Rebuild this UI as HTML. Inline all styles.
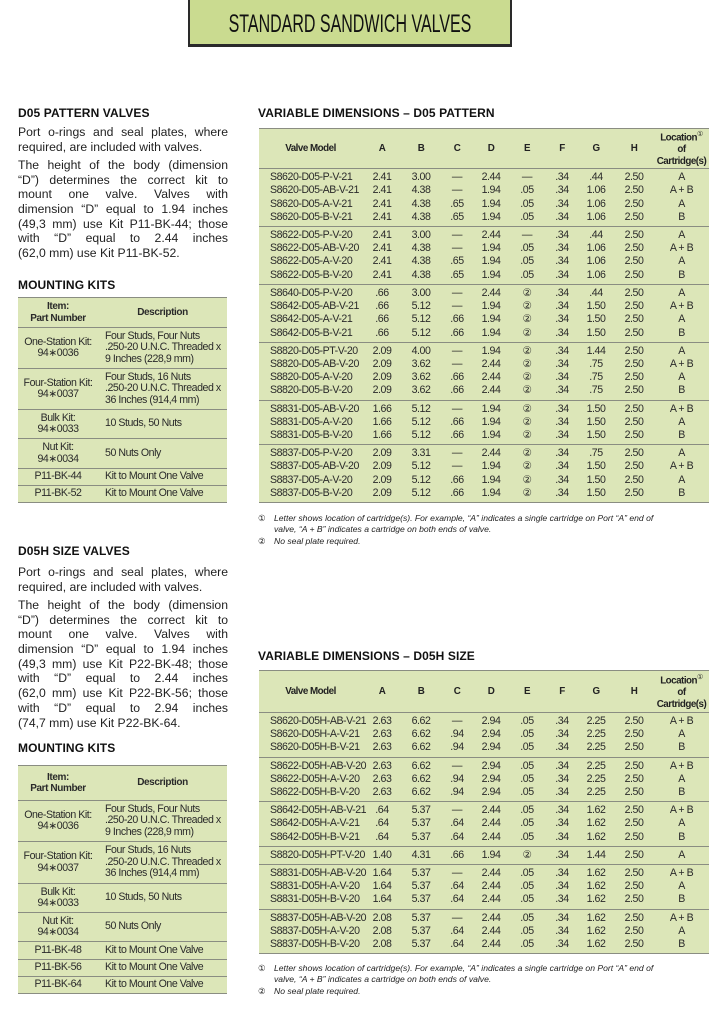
<!DOCTYPE html>
<html><head><meta charset="utf-8">
<style>
*{margin:0;padding:0;box-sizing:border-box}
body{width:723px;height:1013px;background:#fff;position:relative;overflow:hidden;font-family:"Liberation Sans",sans-serif;color:#1a1a1a}
.box{position:absolute;left:188px;top:-3px;width:324px;height:50px;background:#cadb90;border:2px solid #2a2a2a;border-bottom-width:3px;overflow:hidden}
.box span{position:absolute;left:-150px;right:-150px;top:11px;text-align:center;font-size:25px;line-height:28px;transform:scaleX(0.64);white-space:nowrap;color:#111}
.h{position:absolute;font-weight:bold;font-size:12px;letter-spacing:0.1px;white-space:nowrap;color:#111}
.p{position:absolute;left:18px;width:210px;font-size:12.2px;line-height:14.7px;color:#222}
.p div{text-align:justify;text-align-last:justify;white-space:nowrap}
.p div.e{text-align-last:left}
.p div.g{margin-top:3.5px}
table{position:absolute;border-collapse:collapse;background:#dce6b8;table-layout:fixed;font-size:10.6px;letter-spacing:-0.45px;color:#2a2a2a}
table td{padding:0;white-space:nowrap;text-align:center}
.v thead td{font-weight:bold;font-size:9.8px;letter-spacing:-0.5px;color:#222;line-height:12px}
.v tbody{border-top:1.5px solid #8a8d82}
.v{border-bottom:1.5px solid #8a8d82;border-top:1.5px solid #8a8d82}
.v tbody td{line-height:13.2px}
.v tbody tr:first-child td{padding-top:2px}
.v tbody tr:last-child td{padding-bottom:2px}
.v td.m{text-align:left;padding-left:11px}
.k{border-top:1.5px solid #8a8d82;border-bottom:1.5px solid #8a8d82;left:18px;width:209px}
.k td{border-top:1.5px solid #8a8d82;line-height:11.5px}
.k td.d{text-align:left;padding-left:7px}
.k thead td{font-weight:bold;font-size:10px;letter-spacing:-0.4px;border-top:none}
.fn{position:absolute;left:258px;font-size:8.6px;font-style:italic;color:#222;line-height:11px;width:440px}
.fn i{font-style:normal;display:inline-block;width:16px}
.fn .in{padding-left:16px}
sup{font-size:7px;font-weight:normal}
</style></head><body>
<div class="box"><span>STANDARD SANDWICH VALVES</span></div>

<div class="h" style="left:18px;top:106px">D05 PATTERN VALVES</div>
<div class="p" style="top:125px">
<div>Port o-rings and seal plates, where</div>
<div class="e">required, are included with valves.</div>
<div class="g">The height of the body (dimension</div>
<div>“D”) determines the correct kit to</div>
<div>mount one valve. Valves with</div>
<div>dimension “D” equal to 1.94 inches</div>
<div>(49,3 mm) use Kit P11-BK-44; those</div>
<div>with “D” equal to 2.44 inches</div>
<div class="e">(62,0 mm) use Kit P11-BK-52.</div>
</div>

<div class="h" style="left:18px;top:278px">MOUNTING KITS</div>
<table class="k" style="top:297px">
<colgroup><col style="width:80px"><col style="width:129px"></colgroup>
<thead><tr style="height:30px"><td>Item:<br>Part Number</td><td>Description</td></tr></thead>
<tbody>
<tr style="height:41px"><td>One-Station Kit:<br>94∗0036</td><td class="d">Four Studs, Four Nuts<br>.250-20 U.N.C. Threaded x<br>9 Inches (228,9 mm)</td></tr>
<tr style="height:41px"><td>Four-Station Kit:<br>94∗0037</td><td class="d">Four Studs, 16 Nuts<br>.250-20 U.N.C. Threaded x<br>36 Inches (914,4 mm)</td></tr>
<tr style="height:29px"><td>Bulk Kit:<br>94∗0033</td><td class="d">10 Studs, 50 Nuts</td></tr>
<tr style="height:30px"><td>Nut Kit:<br>94∗0034</td><td class="d">50 Nuts Only</td></tr>
<tr style="height:17px"><td>P11-BK-44</td><td class="d">Kit to Mount One Valve</td></tr>
<tr style="height:17px"><td>P11-BK-52</td><td class="d">Kit to Mount One Valve</td></tr>
</tbody></table>

<div class="h" style="left:258px;top:106px">VARIABLE DIMENSIONS – D05 PATTERN</div>
<table class="v" style="left:259px;top:128px;width:450px">
<colgroup><col style="width:103px"><col style="width:40px"><col style="width:38px"><col style="width:34px"><col style="width:34px"><col style="width:38px"><col style="width:32px"><col style="width:36px"><col style="width:40px"><col style="width:55px"></colgroup>
<thead><tr style="height:39px"><td>Valve Model</td><td>A</td><td>B</td><td>C</td><td>D</td><td>E</td><td>F</td><td>G</td><td>H</td><td>Location<sup>①</sup><br>of<br>Cartridge(s)</td></tr></thead>
<tbody>
<tr><td class="m">S8620-D05-P-V-21</td><td>2.41</td><td>3.00</td><td>—</td><td>2.44</td><td>—</td><td>.34</td><td>.44</td><td>2.50</td><td>A</td></tr>
<tr><td class="m">S8620-D05-AB-V-21</td><td>2.41</td><td>4.38</td><td>—</td><td>1.94</td><td>.05</td><td>.34</td><td>1.06</td><td>2.50</td><td>A + B</td></tr>
<tr><td class="m">S8620-D05-A-V-21</td><td>2.41</td><td>4.38</td><td>.65</td><td>1.94</td><td>.05</td><td>.34</td><td>1.06</td><td>2.50</td><td>A</td></tr>
<tr><td class="m">S8620-D05-B-V-21</td><td>2.41</td><td>4.38</td><td>.65</td><td>1.94</td><td>.05</td><td>.34</td><td>1.06</td><td>2.50</td><td>B</td></tr>
</tbody><tbody>
<tr><td class="m">S8622-D05-P-V-20</td><td>2.41</td><td>3.00</td><td>—</td><td>2.44</td><td>—</td><td>.34</td><td>.44</td><td>2.50</td><td>A</td></tr>
<tr><td class="m">S8622-D05-AB-V-20</td><td>2.41</td><td>4.38</td><td>—</td><td>1.94</td><td>.05</td><td>.34</td><td>1.06</td><td>2.50</td><td>A + B</td></tr>
<tr><td class="m">S8622-D05-A-V-20</td><td>2.41</td><td>4.38</td><td>.65</td><td>1.94</td><td>.05</td><td>.34</td><td>1.06</td><td>2.50</td><td>A</td></tr>
<tr><td class="m">S8622-D05-B-V-20</td><td>2.41</td><td>4.38</td><td>.65</td><td>1.94</td><td>.05</td><td>.34</td><td>1.06</td><td>2.50</td><td>B</td></tr>
</tbody><tbody>
<tr><td class="m">S8640-D05-P-V-20</td><td>.66</td><td>3.00</td><td>—</td><td>2.44</td><td>②</td><td>.34</td><td>.44</td><td>2.50</td><td>A</td></tr>
<tr><td class="m">S8642-D05-AB-V-21</td><td>.66</td><td>5.12</td><td>—</td><td>1.94</td><td>②</td><td>.34</td><td>1.50</td><td>2.50</td><td>A + B</td></tr>
<tr><td class="m">S8642-D05-A-V-21</td><td>.66</td><td>5.12</td><td>.66</td><td>1.94</td><td>②</td><td>.34</td><td>1.50</td><td>2.50</td><td>A</td></tr>
<tr><td class="m">S8642-D05-B-V-21</td><td>.66</td><td>5.12</td><td>.66</td><td>1.94</td><td>②</td><td>.34</td><td>1.50</td><td>2.50</td><td>B</td></tr>
</tbody><tbody>
<tr><td class="m">S8820-D05-PT-V-20</td><td>2.09</td><td>4.00</td><td>—</td><td>1.94</td><td>②</td><td>.34</td><td>1.44</td><td>2.50</td><td>A</td></tr>
<tr><td class="m">S8820-D05-AB-V-20</td><td>2.09</td><td>3.62</td><td>—</td><td>2.44</td><td>②</td><td>.34</td><td>.75</td><td>2.50</td><td>A + B</td></tr>
<tr><td class="m">S8820-D05-A-V-20</td><td>2.09</td><td>3.62</td><td>.66</td><td>2.44</td><td>②</td><td>.34</td><td>.75</td><td>2.50</td><td>A</td></tr>
<tr><td class="m">S8820-D05-B-V-20</td><td>2.09</td><td>3.62</td><td>.66</td><td>2.44</td><td>②</td><td>.34</td><td>.75</td><td>2.50</td><td>B</td></tr>
</tbody><tbody>
<tr><td class="m">S8831-D05-AB-V-20</td><td>1.66</td><td>5.12</td><td>—</td><td>1.94</td><td>②</td><td>.34</td><td>1.50</td><td>2.50</td><td>A + B</td></tr>
<tr><td class="m">S8831-D05-A-V-20</td><td>1.66</td><td>5.12</td><td>.66</td><td>1.94</td><td>②</td><td>.34</td><td>1.50</td><td>2.50</td><td>A</td></tr>
<tr><td class="m">S8831-D05-B-V-20</td><td>1.66</td><td>5.12</td><td>.66</td><td>1.94</td><td>②</td><td>.34</td><td>1.50</td><td>2.50</td><td>B</td></tr>
</tbody><tbody>
<tr><td class="m">S8837-D05-P-V-20</td><td>2.09</td><td>3.31</td><td>—</td><td>2.44</td><td>②</td><td>.34</td><td>.75</td><td>2.50</td><td>A</td></tr>
<tr><td class="m">S8837-D05-AB-V-20</td><td>2.09</td><td>5.12</td><td>—</td><td>1.94</td><td>②</td><td>.34</td><td>1.50</td><td>2.50</td><td>A + B</td></tr>
<tr><td class="m">S8837-D05-A-V-20</td><td>2.09</td><td>5.12</td><td>.66</td><td>1.94</td><td>②</td><td>.34</td><td>1.50</td><td>2.50</td><td>A</td></tr>
<tr><td class="m">S8837-D05-B-V-20</td><td>2.09</td><td>5.12</td><td>.66</td><td>1.94</td><td>②</td><td>.34</td><td>1.50</td><td>2.50</td><td>B</td></tr>
</tbody></table>
<div class="fn" style="top:513px"><i>①</i>Letter shows location of cartridge(s). For example, “A” indicates a single cartridge on Port “A” end of<div class="in">valve, “A + B” indicates a cartridge on both ends of valve.</div><div style="margin-top:1px"><i>②</i>No seal plate required.</div></div>

<div class="h" style="left:18px;top:544px">D05H SIZE VALVES</div>
<div class="p" style="top:565px">
<div>Port o-rings and seal plates, where</div>
<div class="e">required, are included with valves.</div>
<div class="g">The height of the body (dimension</div>
<div>“D”) determines the correct kit to</div>
<div>mount one valve. Valves with</div>
<div>dimension “D” equal to 1.94 inches</div>
<div>(49,3 mm) use Kit P22-BK-48; those</div>
<div>with “D” equal to 2.44 inches</div>
<div>(62,0 mm) use Kit P22-BK-56; those</div>
<div>with “D” equal to 2.94 inches</div>
<div class="e">(74,7 mm) use Kit P22-BK-64.</div>
</div>

<div class="h" style="left:18px;top:741px">MOUNTING KITS</div>
<table class="k" style="top:765px">
<colgroup><col style="width:80px"><col style="width:129px"></colgroup>
<thead><tr style="height:35px"><td>Item:<br>Part Number</td><td>Description</td></tr></thead>
<tbody>
<tr style="height:41px"><td>One-Station Kit:<br>94∗0036</td><td class="d">Four Studs, Four Nuts<br>.250-20 U.N.C. Threaded x<br>9 Inches (228,9 mm)</td></tr>
<tr style="height:42px"><td>Four-Station Kit:<br>94∗0037</td><td class="d">Four Studs, 16 Nuts<br>.250-20 U.N.C. Threaded x<br>36 Inches (914,4 mm)</td></tr>
<tr style="height:29px"><td>Bulk Kit:<br>94∗0033</td><td class="d">10 Studs, 50 Nuts</td></tr>
<tr style="height:29px"><td>Nut Kit:<br>94∗0034</td><td class="d">50 Nuts Only</td></tr>
<tr style="height:18px"><td>P11-BK-48</td><td class="d">Kit to Mount One Valve</td></tr>
<tr style="height:17px"><td>P11-BK-56</td><td class="d">Kit to Mount One Valve</td></tr>
<tr style="height:17px"><td>P11-BK-64</td><td class="d">Kit to Mount One Valve</td></tr>
</tbody></table>

<div class="h" style="left:258px;top:649px">VARIABLE DIMENSIONS – D05H SIZE</div>
<table class="v" style="left:259px;top:670px;width:450px">
<colgroup><col style="width:103px"><col style="width:40px"><col style="width:38px"><col style="width:34px"><col style="width:34px"><col style="width:38px"><col style="width:32px"><col style="width:36px"><col style="width:40px"><col style="width:55px"></colgroup>
<thead><tr style="height:42px"><td>Valve Model</td><td>A</td><td>B</td><td>C</td><td>D</td><td>E</td><td>F</td><td>G</td><td>H</td><td>Location<sup>①</sup><br>of<br>Cartridge(s)</td></tr></thead>
<tbody>
<tr><td class="m">S8620-D05H-AB-V-21</td><td>2.63</td><td>6.62</td><td>—</td><td>2.94</td><td>.05</td><td>.34</td><td>2.25</td><td>2.50</td><td>A + B</td></tr>
<tr><td class="m">S8620-D05H-A-V-21</td><td>2.63</td><td>6.62</td><td>.94</td><td>2.94</td><td>.05</td><td>.34</td><td>2.25</td><td>2.50</td><td>A</td></tr>
<tr><td class="m">S8620-D05H-B-V-21</td><td>2.63</td><td>6.62</td><td>.94</td><td>2.94</td><td>.05</td><td>.34</td><td>2.25</td><td>2.50</td><td>B</td></tr>
</tbody><tbody>
<tr><td class="m">S8622-D05H-AB-V-20</td><td>2.63</td><td>6.62</td><td>—</td><td>2.94</td><td>.05</td><td>.34</td><td>2.25</td><td>2.50</td><td>A + B</td></tr>
<tr><td class="m">S8622-D05H-A-V-20</td><td>2.63</td><td>6.62</td><td>.94</td><td>2.94</td><td>.05</td><td>.34</td><td>2.25</td><td>2.50</td><td>A</td></tr>
<tr><td class="m">S8622-D05H-B-V-20</td><td>2.63</td><td>6.62</td><td>.94</td><td>2.94</td><td>.05</td><td>.34</td><td>2.25</td><td>2.50</td><td>B</td></tr>
</tbody><tbody>
<tr><td class="m">S8642-D05H-AB-V-21</td><td>.64</td><td>5.37</td><td>—</td><td>2.44</td><td>.05</td><td>.34</td><td>1.62</td><td>2.50</td><td>A + B</td></tr>
<tr><td class="m">S8642-D05H-A-V-21</td><td>.64</td><td>5.37</td><td>.64</td><td>2.44</td><td>.05</td><td>.34</td><td>1.62</td><td>2.50</td><td>A</td></tr>
<tr><td class="m">S8642-D05H-B-V-21</td><td>.64</td><td>5.37</td><td>.64</td><td>2.44</td><td>.05</td><td>.34</td><td>1.62</td><td>2.50</td><td>B</td></tr>
</tbody><tbody>
<tr><td class="m">S8820-D05H-PT-V-20</td><td>1.40</td><td>4.31</td><td>.66</td><td>1.94</td><td>②</td><td>.34</td><td>1.44</td><td>2.50</td><td>A</td></tr>
</tbody><tbody>
<tr><td class="m">S8831-D05H-AB-V-20</td><td>1.64</td><td>5.37</td><td>—</td><td>2.44</td><td>.05</td><td>.34</td><td>1.62</td><td>2.50</td><td>A + B</td></tr>
<tr><td class="m">S8831-D05H-A-V-20</td><td>1.64</td><td>5.37</td><td>.64</td><td>2.44</td><td>.05</td><td>.34</td><td>1.62</td><td>2.50</td><td>A</td></tr>
<tr><td class="m">S8831-D05H-B-V-20</td><td>1.64</td><td>5.37</td><td>.64</td><td>2.44</td><td>.05</td><td>.34</td><td>1.62</td><td>2.50</td><td>B</td></tr>
</tbody><tbody>
<tr><td class="m">S8837-D05H-AB-V-20</td><td>2.08</td><td>5.37</td><td>—</td><td>2.44</td><td>.05</td><td>.34</td><td>1.62</td><td>2.50</td><td>A + B</td></tr>
<tr><td class="m">S8837-D05H-A-V-20</td><td>2.08</td><td>5.37</td><td>.64</td><td>2.44</td><td>.05</td><td>.34</td><td>1.62</td><td>2.50</td><td>A</td></tr>
<tr><td class="m">S8837-D05H-B-V-20</td><td>2.08</td><td>5.37</td><td>.64</td><td>2.44</td><td>.05</td><td>.34</td><td>1.62</td><td>2.50</td><td>B</td></tr>
</tbody></table>
<div class="fn" style="top:963px"><i>①</i>Letter shows location of cartridge(s). For example, “A” indicates a single cartridge on Port “A” end of<div class="in">valve, “A + B” indicates a cartridge on both ends of valve.</div><div style="margin-top:1px"><i>②</i>No seal plate required.</div></div>
</body></html>
